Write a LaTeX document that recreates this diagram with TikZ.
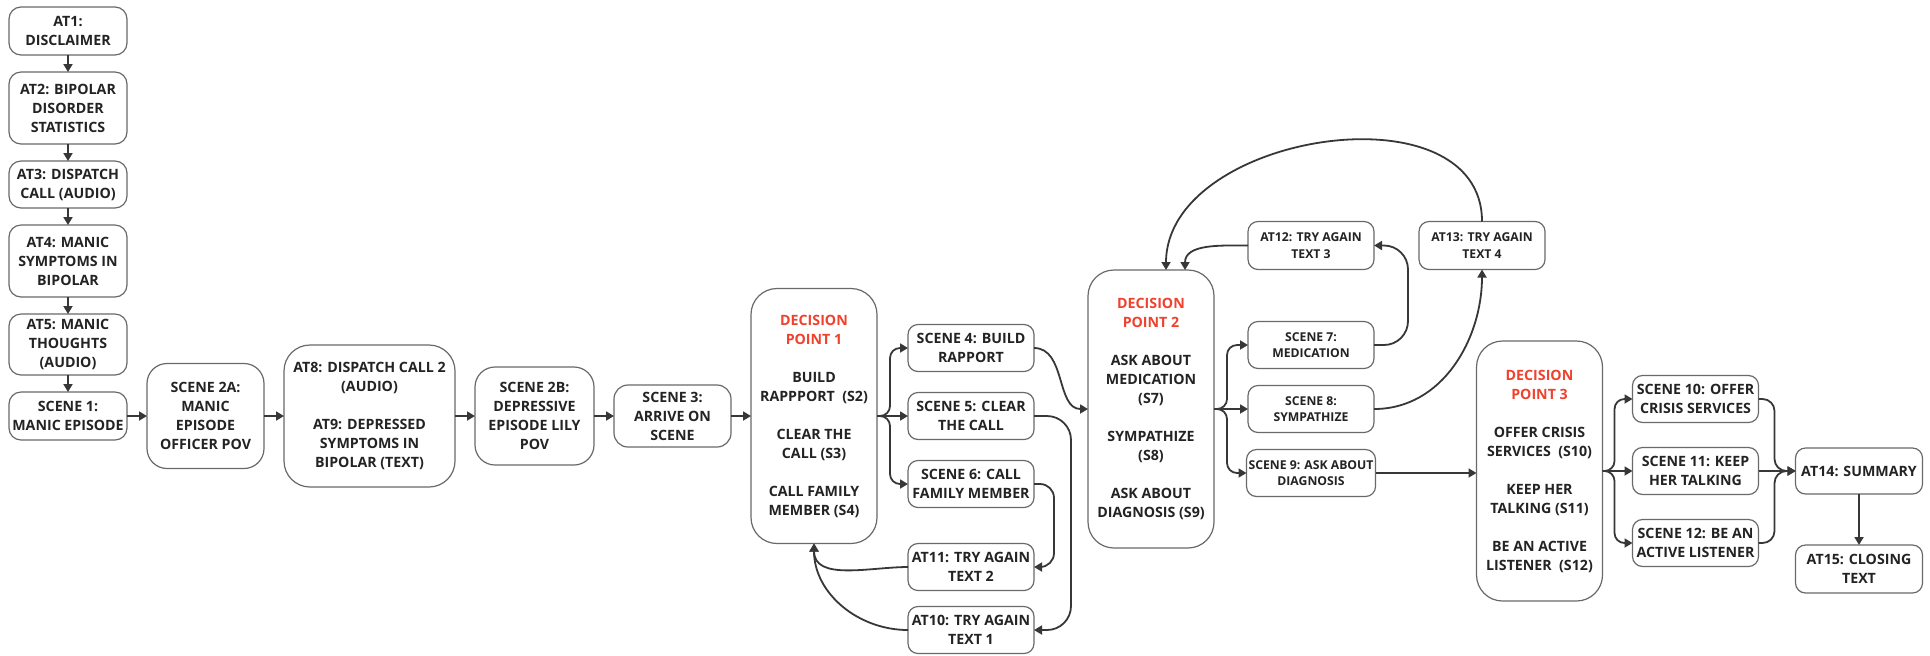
\documentclass[tikz,border=0pt]{standalone}
\usepackage{fontspec}
\setmainfont{Open Sans}
\usepackage{tikz}
\usetikzlibrary{positioning,chains,arrows.meta}
\definecolor{dpred}{RGB}{240,65,45}
\definecolor{boxgray}{RGB}{105,105,105}
\definecolor{linegray}{RGB}{55,55,55}
\definecolor{textgray}{RGB}{35,35,35}
\newcommand{\normfont}{\fontsize{7.1}{9.5}\selectfont\bfseries}
\newcommand{\smallfont}{\fontsize{6.1}{8.25}\selectfont\bfseries}
\newcommand{\dptitle}[1]{\textcolor{dpred}{DECISION}\\\textcolor{dpred}{POINT #1}\\[9.5pt]}

\begin{document}
\begin{tikzpicture}[%
    x=0.5pt, y=0.5pt,                    % one unit is one pixel of the sketch
    >={Triangle[length=4pt,width=4.5pt]},
    start chain=going below,             % left column runs top-to-bottom
    node distance=8.5pt and 10pt,
    ]
\tikzset{
  base/.style={draw=boxgray, line width=0.6pt, fill=white, text=textgray,
    align=center, inner xsep=1pt, inner ysep=1pt, outer sep=0pt, font=\normfont},
  col/.style={base, on chain, rounded corners=6pt, minimum width=59pt},
  scene/.style={base, rounded corners=5pt, minimum width=63pt, minimum height=23.5pt},
  scenesm/.style={scene, font=\smallfont},
  dec/.style={base, rounded corners=13pt, minimum width=63pt},
  norm/.style={->, line width=0.9pt, draw=linegray},
}
\useasboundingbox (0,0) rectangle (1930,-655);

% left column
\node [col, minimum height=24pt] (at1) at (68,-31) {AT1:\\DISCLAIMER};
\node [col, minimum height=36pt] (at2) {AT2: BIPOLAR\\DISORDER\\STATISTICS};
\node [col, minimum height=23.5pt] (at3) {AT3: DISPATCH\\CALL (AUDIO)};
\node [col, minimum height=36pt] (at4) {AT4: MANIC\\SYMPTOMS IN\\BIPOLAR};
\node [col, minimum height=30.5pt] (at5) {AT5: MANIC\\THOUGHTS\\(AUDIO)};
\node [col, minimum height=24pt] (s1) {SCENE 1:\\MANIC EPISODE};

% main row
\node [base, right=10pt of s1, minimum width=58.5pt, minimum height=52.5pt, rounded corners=10pt] (s2a)
  {SCENE 2A:\\MANIC\\EPISODE\\OFFICER POV};
\node [base, right=10pt of s2a, minimum width=85.5pt, minimum height=71pt, rounded corners=13pt] (at8)
  {AT8: DISPATCH CALL 2\\(AUDIO)\\[9.5pt]AT9: DEPRESSED\\SYMPTOMS IN\\BIPOLAR (TEXT)};
\node [base, right=10pt of at8, minimum width=59.5pt, minimum height=49pt, rounded corners=10pt] (s2b)
  {SCENE 2B:\\DEPRESSIVE\\EPISODE LILY\\POV};
\node [base, right=10pt of s2b, minimum width=58.5pt, minimum height=31pt, rounded corners=7pt] (s3)
  {SCENE 3:\\ARRIVE ON\\SCENE};
\node [dec, right=10pt of s3, minimum height=127.5pt] (dp1)
  {\dptitle{1}BUILD\\RAPPPORT\ \ (S2)\\[9.5pt]CLEAR THE\\CALL (S3)\\[9.5pt]CALL FAMILY\\MEMBER (S4)};

% decision point 1
\node [scene, right=15.5pt of dp1] (sc5) {SCENE 5: CLEAR\\THE CALL};
\node [scene, above=10.5pt of sc5] (sc4) {SCENE 4: BUILD\\RAPPORT};
\node [scene, below=10.5pt of sc5] (sc6) {SCENE 6: CALL\\FAMILY MEMBER};
\node [scene, below=18pt of sc6] (at11) {AT11: TRY AGAIN\\TEXT 2};
\node [scene, below=8pt of at11] (at10) {AT10: TRY AGAIN\\TEXT 1};

% decision point 2
\node [dec, right=27pt of sc5, yshift=3.5pt, minimum height=139pt] (dp2)
  {\dptitle{2}ASK ABOUT\\MEDICATION\\(S7)\\[9.5pt]SYMPATHIZE\\(S8)\\[9.5pt]ASK ABOUT\\DIAGNOSIS (S9)};
\node [scenesm, right=17pt of dp2] (sc8) {SCENE 8:\\SYMPATHIZE};
\node [scenesm, above=8.5pt of sc8] (sc7) {SCENE 7:\\MEDICATION};
\node [scenesm, below=8.5pt of sc8, minimum width=64.5pt] (sc9) {SCENE 9: ASK ABOUT\\DIAGNOSIS};
\node [scenesm, above=26pt of sc7, minimum height=24pt] (at12) {AT12: TRY AGAIN\\TEXT 3};
\node [scenesm, right=22.5pt of at12, minimum height=24pt] (at13) {AT13: TRY AGAIN\\TEXT 4};

% decision point 3
\node [dec, right=50.5pt of sc9, yshift=1pt, minimum height=130pt] (dp3)
  {\dptitle{3}OFFER CRISIS\\SERVICES\ \ (S10)\\[9.5pt]KEEP HER\\TALKING (S11)\\[9.5pt]BE AN ACTIVE\\LISTENER\ \ (S12)};
\node [scene, right=15pt of dp3] (sc11) {SCENE 11: KEEP\\HER TALKING};
\node [scene, above=12.5pt of sc11] (sc10) {SCENE 10: OFFER\\CRISIS SERVICES};
\node [scene, below=12.5pt of sc11] (sc12) {SCENE 12: BE AN\\ACTIVE LISTENER};
\node [scene, right=18.5pt of sc11, minimum width=63.5pt, minimum height=23pt] (at14) {AT14: SUMMARY};
\node [scene, below=25.5pt of at14, minimum width=63.5pt, minimum height=24pt] (at15) {AT15: CLOSING\\TEXT};

%connect
\draw [norm] (at1) -- (at2);
\draw [norm] (at2) -- (at3);
\draw [norm] (at3) -- (at4);
\draw [norm] (at4) -- (at5);
\draw [norm] (at5) -- (s1);
\draw [norm] (s1) -- (s2a);
\draw [norm] (s2a) -- (at8);
\draw [norm] (at8) -- (s2b);
\draw [norm] (s2b) -- (s3);
\draw [norm] (s3) -- (dp1);

\draw [norm, rounded corners=5pt] (dp1.east) -- ++(13,0) |- (sc4.west);
\draw [norm] (dp1.east) -- (sc5.west);
\draw [norm, rounded corners=5pt] (dp1.east) -- ++(13,0) |- (sc6.west);
\draw [norm] (sc4.east) to [out=0,in=180] (dp2.west);
\draw [norm, rounded corners=12pt] (sc5.east) -- ++(37,0) |- (at10.east);
\draw [norm, rounded corners=7pt] (sc6.east) -- ++(20,0) |- (at11.east);
\draw [norm] (at11.west) to [out=180,in=-90] (dp1.south);
\draw [norm] (at10.west) to [out=180,in=-90] (dp1.south);

\draw [norm, rounded corners=5pt] (dp2.east) -- ++(13,0) |- (sc7.west);
\draw [norm] (dp2.east) -- (sc8.west);
\draw [norm, rounded corners=5pt] (dp2.east) -- ++(13,0) |- (sc9.west);
\draw [norm, rounded corners=12pt] (sc7.east) -- ++(34,0) |- (at12.east);
\draw [norm] (sc8.east) to [out=0,in=-90] (at13.south);
\draw [norm] (at12.west) to [out=180,in=90] ([xshift=17pt]dp2.north);
\draw [norm] (at13.north) to [out=90,in=90,looseness=1.1] ([xshift=7.5pt]dp2.north);
\draw [norm] (sc9) -- (sc9 -| dp3.west);

\draw [norm, rounded corners=5pt] (dp3.east) -- ++(12,0) |- (sc10.west);
\draw [norm] (dp3.east) -- (sc11.west);
\draw [norm, rounded corners=5pt] (dp3.east) -- ++(12,0) |- (sc12.west);
\draw [norm, rounded corners=6pt] (sc10.east) -- ++(16,0) |- (at14.west);
\draw [norm] (sc11) -- (at14);
\draw [norm, rounded corners=6pt] (sc12.east) -- ++(16,0) |- (at14.west);
\draw [norm] (at14) -- (at15);

\end{tikzpicture}
\end{document}
